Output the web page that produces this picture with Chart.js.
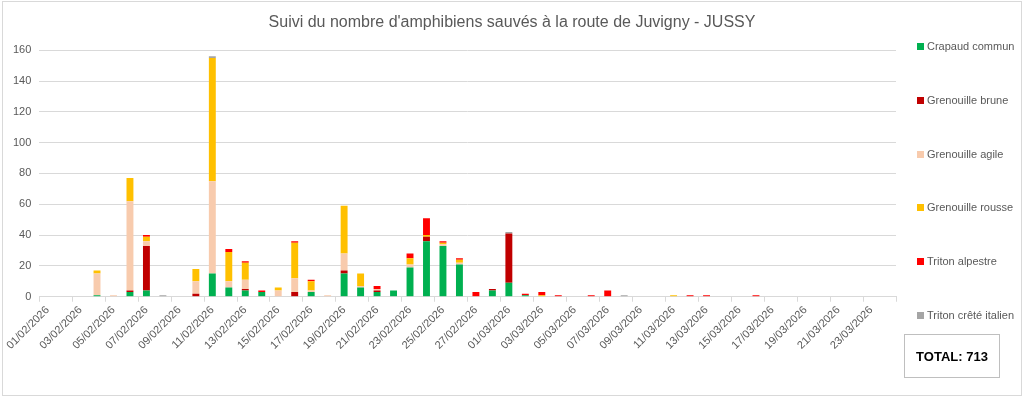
<!DOCTYPE html>
<html lang="fr">
<head>
<meta charset="utf-8">
<title>Suivi amphibiens Juvigny - JUSSY</title>
<script src="https://cdn.jsdelivr.net/npm/chart.js@4.4.1/dist/chart.umd.min.js"></script>
<style>
  html, body { margin: 0; padding: 0; background: #fff; }
  body { font-family: "Liberation Sans", Arial, sans-serif; }
  .chart-wrap { position: relative; width: 1024px; height: 398px; }
  .frame {
    position: absolute; left: 2px; top: 1px; width: 1020px; height: 395px;
    box-sizing: border-box; border: 1px solid #d9d9d9; pointer-events: none;
  }
  .legend { position: absolute; left: 917px; top: 0; }
  .legend-item {
    position: absolute; left: 0; white-space: nowrap;
    font-size: 11px; color: #595959; line-height: 14px; height: 14px;
  }
  .legend-item span.box {
    display: inline-block; width: 7px; height: 7px; margin-right: 3px; vertical-align: 0px;
  }
  .total {
    position: absolute; left: 904px; top: 334px; width: 96px; height: 44px;
    box-sizing: border-box; border: 1px solid #bfbfbf;
    font-size: 13px; font-weight: bold; color: #000;
    display: flex; align-items: center; justify-content: center;
  }
</style>
</head>
<body>
<div class="chart-wrap">
  <canvas id="amphibChart"></canvas>
  <div class="frame"></div>
  <div class="legend" id="legend"></div>
  <div class="total" id="total"></div>
</div>
<script>
// dates (one bar per day)
const days = [
    '01/02/2026', '02/02/2026', '03/02/2026', '04/02/2026', '05/02/2026', '06/02/2026', '07/02/2026',
    '08/02/2026', '09/02/2026', '10/02/2026', '11/02/2026', '12/02/2026', '13/02/2026', '14/02/2026',
    '15/02/2026', '16/02/2026', '17/02/2026', '18/02/2026', '19/02/2026', '20/02/2026', '21/02/2026',
    '22/02/2026', '23/02/2026', '24/02/2026', '25/02/2026', '26/02/2026', '27/02/2026', '28/02/2026',
    '01/03/2026', '02/03/2026', '03/03/2026', '04/03/2026', '05/03/2026', '06/03/2026', '07/03/2026',
    '08/03/2026', '09/03/2026', '10/03/2026', '11/03/2026', '12/03/2026', '13/03/2026', '14/03/2026',
    '15/03/2026', '16/03/2026', '17/03/2026', '18/03/2026', '19/03/2026', '20/03/2026', '21/03/2026',
    '22/03/2026', '23/03/2026', '24/03/2026'
];

// counts per species, same order as days
const crapaudCommun = [
    0, 0, 0, 1, 0, 3, 4, 0, 0, 0, 15, 6, 4, 3, 0, 0, 3, 0, 15, 6, 3, 4, 19, 36, 33, 21, 0, 4,
    9, 1, 0, 0, 0, 0, 0, 0, 0, 0, 0, 0, 0, 0, 0, 0, 0, 0, 0, 0, 0, 0, 0, 0
];
const grenouilleBrune = [
    0, 0, 0, 0, 0, 1, 29, 0, 0, 2, 0, 0, 1, 0, 0, 3, 0, 0, 2, 0, 1, 0, 0, 3, 0, 0, 0, 1,
    32, 0, 0, 0, 0, 0, 0, 0, 0, 0, 0, 0, 0, 0, 0, 0, 0, 0, 0, 0, 0, 0, 0, 0
];
const grenouilleAgile = [
    0, 0, 0, 14, 1, 58, 3, 0, 0, 8, 60, 4, 6, 0, 4, 9, 1, 1, 11, 1, 1, 0, 2, 0, 1, 1, 0, 0,
    0, 0, 0, 0, 0, 0, 0, 0, 0, 0, 0, 0, 0, 0, 0, 0, 0, 0, 0, 0, 0, 0, 0, 0
];
const grenouilleRousse = [
    0, 0, 0, 2, 0, 15, 3, 0, 0, 8, 80, 19, 11, 0, 2, 23, 6, 0, 31, 8, 0, 0, 4, 1, 1, 2, 0, 0,
    0, 0, 1, 0, 0, 0, 0, 0, 0, 0, 1, 0, 0, 0, 0, 0, 0, 0, 0, 0, 0, 0, 0, 0
];
const tritonAlpestre = [
    0, 0, 0, 0, 0, 0, 1, 0, 0, 0, 0, 2, 1, 1, 0, 1, 1, 0, 0, 0, 2, 0, 3, 11, 1, 1, 3, 0,
    0, 1, 2, 1, 0, 1, 4, 0, 0, 0, 0, 1, 1, 0, 0, 1, 0, 0, 0, 0, 0, 0, 0, 0
];
const tritonCreteItalien = [
    0, 0, 0, 0, 0, 0, 0, 1, 0, 0, 1, 0, 0, 0, 0, 0, 0, 0, 0, 0, 0, 0, 0, 0, 0, 0, 0, 0,
    1, 0, 0, 0, 0, 0, 0, 1, 0, 0, 0, 0, 0, 0, 0, 0, 0, 0, 0, 0, 0, 0, 0, 0
];

const yTicks = [0, 20, 40, 60, 80, 100, 120, 140, 160];
const totalLabel = 'TOTAL: 713';

const species = [
    { label: 'Crapaud commun', data: crapaudCommun, color: '#00b050' },
    { label: 'Grenouille brune', data: grenouilleBrune, color: '#c00000' },
    { label: 'Grenouille agile', data: grenouilleAgile, color: '#f8cbad' },
    { label: 'Grenouille rousse', data: grenouilleRousse, color: '#ffc000' },
    { label: 'Triton alpestre', data: tritonAlpestre, color: '#ff0000' },
    { label: 'Triton crêté italien', data: tritonCreteItalien, color: '#a5a5a5' }
];

const fontFamily = '"Liberation Sans", Arial, sans-serif';
const grey = '#595959';
const lineGrey = '#d9d9d9';

const ctx = document.getElementById('amphibChart').getContext('2d');
const chart = new Chart(ctx, {
    type: 'bar',
    data: {
        labels: days,
        datasets: species.map(s => ({
            label: s.label,
            data: s.data,
            backgroundColor: s.color,
            borderWidth: 0,
            barPercentage: 0.42,
            categoryPercentage: 1.0
        }))
    },
    options: {
        responsive: true,
        maintainAspectRatio: false,
        animation: false,
        layout: {
            padding: { left: 5, right: 5, top: 4, bottom: 44 }
        },
        plugins: {
            legend: { display: false },
            tooltip: { enabled: false },
            title: {
                display: true,
                text: "Suivi du nombre d'amphibiens sauvés à la route de Juvigny - JUSSY",
                color: grey,
                font: { family: fontFamily, size: 16, weight: 'normal' },
                padding: { top: 9, bottom: 18 }
            }
        },
        scales: {
            x: {
                stacked: true,
                offset: true,
                border: { color: lineGrey },
                grid: {
                    offset: true,
                    drawOnChartArea: false,
                    drawTicks: true,
                    tickLength: 5,
                    // a tick mark every second day, plus the closing one
                    color: c => (c.index === undefined || c.index % 2 === 0) ? lineGrey : 'rgba(0,0,0,0)'
                },
                ticks: {
                    autoSkip: false,
                    minRotation: 45,
                    maxRotation: 45,
                    padding: 2,
                    color: grey,
                    font: { family: fontFamily, size: 11 },
                    callback: function(value, index) {
                        return index % 2 === 0 ? this.getLabelForValue(value) : '';
                    }
                }
            },
            y: {
                stacked: true,
                min: yTicks[0],
                max: yTicks[yTicks.length - 1],
                border: { display: false },
                grid: { color: lineGrey, drawTicks: false },
                afterBuildTicks: axis => {
                    axis.ticks = yTicks.map(v => ({ value: v }));
                },
                ticks: {
                    padding: 8,
                    color: grey,
                    font: { family: fontFamily, size: 11 }
                }
            },
            // empty axis that only reserves room for the legend column
            legendSpace: {
                position: 'right',
                grid: { display: false },
                border: { display: false },
                ticks: { display: false },
                afterFit: axis => { axis.width = 123; }
            }
        }
    }
});

// legend on the right, one entry every ~54px like the original
const legend = document.getElementById('legend');
species.forEach((s, i) => {
    const item = document.createElement('div');
    item.className = 'legend-item';
    item.style.top = `${39 + i * 53.8}px`;
    item.innerHTML = `<span class="box" style="background:${s.color}"></span>${s.label}`;
    legend.appendChild(item);
});

document.getElementById('total').textContent = totalLabel;
</script>
</body>
</html>
